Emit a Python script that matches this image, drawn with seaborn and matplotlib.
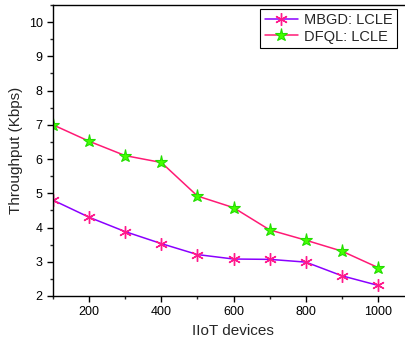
import matplotlib
matplotlib.use("Agg")
import matplotlib.pyplot as plt
import seaborn as sns
import pandas as pd
from matplotlib.ticker import MultipleLocator

devices = [100, 200, 300, 400, 500, 600, 700, 800, 900, 1000]
mbgd = [4.80, 4.30, 3.88, 3.53, 3.21, 3.08, 3.07, 2.99, 2.59, 2.31]
dfql = [7.00, 6.52, 6.10, 5.90, 4.92, 4.58, 3.93, 3.63, 3.31, 2.83]

sns.set_style("ticks")
plt.rcParams['font.family'] = ['Liberation Sans', 'DejaVu Sans']

fig = plt.figure(figsize=(4.06, 3.43), dpi=100)
ax = fig.add_axes([53/406, 1-296/343, (412-53)/406, (296-5)/343])

df = pd.DataFrame({"x": devices, "MBGD: LCLE": mbgd, "DFQL: LCLE": dfql})

sns.lineplot(data=df, x="x", y="MBGD: LCLE", ax=ax, color="#8a00ff", lw=1.1,
             marker=(6, 2, 0), markersize=9, markeredgecolor="#ff1a8c",
             markerfacecolor="#ff1a8c", markeredgewidth=1.0, label="MBGD: LCLE")
sns.lineplot(data=df, x="x", y="DFQL: LCLE", ax=ax, color="#ff1a75", lw=1.1,
             marker="*", markersize=9.5, markeredgecolor="#22dd00",
             markerfacecolor="#44ff00", markeredgewidth=0.8, label="DFQL: LCLE")

ax.set_xlim(100, 1094)
ax.set_ylim(2, 10.5)
ax.xaxis.set_major_locator(MultipleLocator(200))
ax.xaxis.set_minor_locator(MultipleLocator(100))
ax.yaxis.set_major_locator(MultipleLocator(1))
ax.yaxis.set_minor_locator(MultipleLocator(0.5))
ax.set_yticks([2, 3, 4, 5, 6, 7, 8, 9, 10])
ax.tick_params(which="major", direction="out", length=4, width=1, labelsize=9, colors="black")
ax.tick_params(which="minor", direction="out", length=2.5, width=1)
ax.spines["right"].set_visible(False)
for s in ax.spines.values():
    s.set_linewidth(1.0)
    s.set_color("black")

ax.set_xlabel("IIoT devices", fontsize=11)
ax.set_ylabel("Throughput (Kbps)", fontsize=11)

leg = ax.legend(loc="upper right", fontsize=10.5, frameon=True, fancybox=False,
                edgecolor="black", framealpha=1, handlelength=2.3,
                borderpad=0.3, labelspacing=0.15, handletextpad=0.4,
                borderaxespad=0,
                bbox_to_anchor=(397/406, 1-9/343), bbox_transform=fig.transFigure)
leg.get_frame().set_linewidth(0.8)

fig.savefig("out.png", dpi=100)
